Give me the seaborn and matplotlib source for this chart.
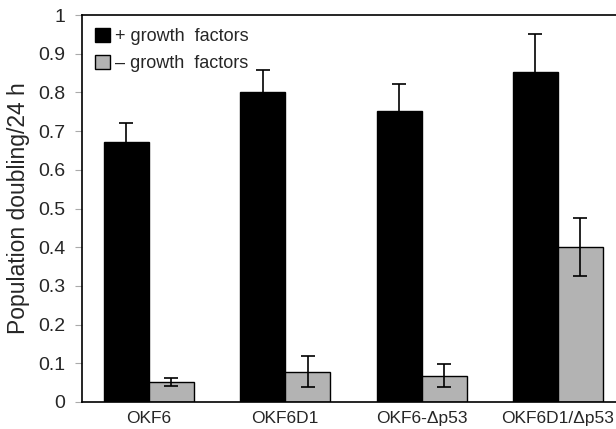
import numpy as np
import pandas as pd
import matplotlib
matplotlib.use("Agg")
import matplotlib.pyplot as plt
import seaborn as sns
from matplotlib.patches import Patch

cells = ["OKF6", "OKF6D1", "OKF6-\u0394p53", "OKF6D1/\u0394p53"]
series = ["+ growth  factors", "\u2013 growth  factors"]
with_gf = [0.673, 0.802, 0.753, 0.853]
with_gf_err = [0.048, 0.056, 0.068, 0.098]
without_gf = [0.052, 0.078, 0.068, 0.401]
without_gf_err = [0.010, 0.040, 0.030, 0.075]
colors = ["#000000", "#b3b3b3"]

df = pd.DataFrame({
    "cell": cells * 2,
    "series": [series[0]] * 4 + [series[1]] * 4,
    "value": with_gf + without_gf,
})

sns.set_style("white")
plt.rcParams["font.family"] = ["Liberation Sans", "DejaVu Sans"]

fig = plt.figure(figsize=(6.16, 4.29), dpi=100)
ax = fig.add_axes([82 / 616, 27 / 429, 540 / 616, 387 / 429])

sns.barplot(data=df, x="cell", y="value", hue="series", palette=colors,
            order=cells, hue_order=series, errorbar=None, width=0.66,
            edgecolor="black", linewidth=1, ax=ax, legend=False)

errs = [with_gf_err, without_gf_err]
for cont, err in zip(ax.containers, errs):
    xs = [p.get_x() + p.get_width() / 2 for p in cont.patches]
    ys = [p.get_height() for p in cont.patches]
    ax.errorbar(xs, ys, yerr=err, fmt="none", ecolor="black",
                elinewidth=1.2, capsize=4.7, capthick=1.2, zorder=5)

ax.set_ylim(0, 1)
ax.set_xlim(-0.49, 3.47)
ax.set_yticks(np.arange(0, 1.01, 0.1))
ax.set_yticklabels(["0"] + ["%.1f" % v for v in np.arange(0.1, 0.95, 0.1)] + ["1"])
ax.tick_params(axis="y", left=True, length=5, color="#aaaaaa", labelsize=14, pad=7)
ax.tick_params(axis="x", bottom=False, labelsize=12.5, pad=3)
ax.set_xlabel("")
ax.set_ylabel("Population doubling/24 h", fontsize=16.5, labelpad=6)

for s in ["left", "bottom", "top"]:
    ax.spines[s].set_visible(True)
    ax.spines[s].set_color("black")
    ax.spines[s].set_linewidth(1.2)
ax.spines["right"].set_visible(False)

handles = [Patch(facecolor=c, edgecolor="black", linewidth=1) for c in colors]
ax.legend(handles, series, loc="upper left", bbox_to_anchor=(0.0, 1.0),
          frameon=False, fontsize=13, handlelength=0.85, handleheight=0.85,
          handletextpad=0.3, labelspacing=0.55, borderaxespad=0.3)

fig.savefig("out.png", dpi=100)
